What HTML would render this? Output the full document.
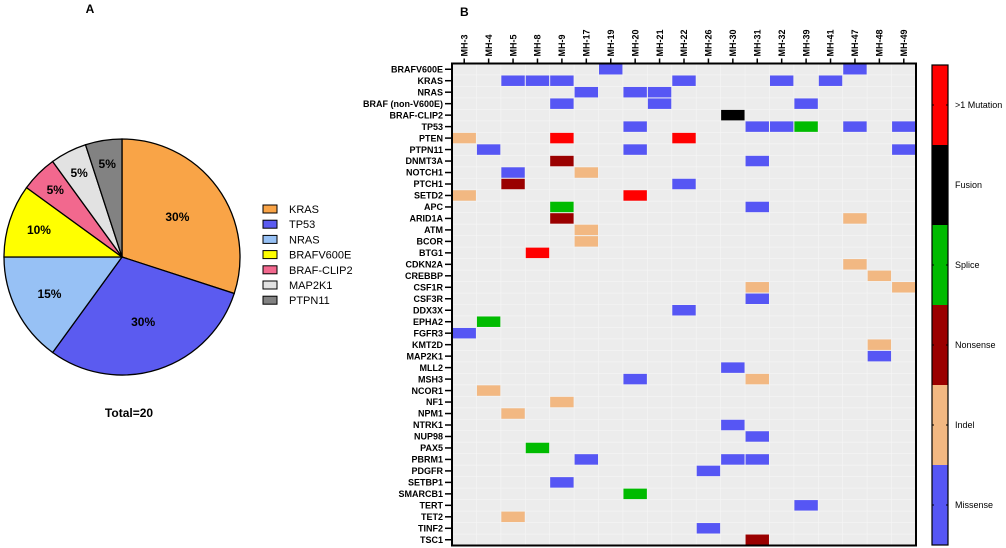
<!DOCTYPE html>
<html><head><meta charset="utf-8"><style>
body{margin:0;background:#fff;font-family:"Liberation Sans",Arial,sans-serif}
svg{display:block}
text{font-family:"Liberation Sans",Arial,sans-serif;font-weight:bold}
</style></head><body>
<svg id="svg" width="1006" height="548" viewBox="0 0 1006 548"></svg>
<script>
const pieLabels=["KRAS","TP53","NRAS","BRAFV600E","BRAF-CLIP2","MAP2K1","PTPN11"];
const pieValues=[30,30,15,10,5,5,5];
const pieColors=["#f9a447","#5b5bf0","#97c1f5","#ffff00","#f2688e","#e2e2e2","#828282"];
const columns=["MH-3","MH-4","MH-5","MH-8","MH-9","MH-17","MH-19","MH-20","MH-21","MH-22","MH-26","MH-30","MH-31","MH-32","MH-39","MH-41","MH-47","MH-48","MH-49"];
const genes=["BRAFV600E","KRAS","NRAS","BRAF (non-V600E)","BRAF-CLIP2","TP53","PTEN","PTPN11","DNMT3A","NOTCH1","PTCH1","SETD2","APC","ARID1A","ATM","BCOR","BTG1","CDKN2A","CREBBP","CSF1R","CSF3R","DDX3X","EPHA2","FGFR3","KMT2D","MAP2K1","MLL2","MSH3","NCOR1","NF1","NPM1","NTRK1","NUP98","PAX5","PBRM1","PDGFR","SETBP1","SMARCB1","TERT","TET2","TINF2","TSC1"];
const categories=["Missense","Indel","Nonsense","Splice","Fusion",">1 Mutation"];
const catColors=["#5656f4","#f2b882","#9a0000","#00bb00","#000000","#ff0000"];
// [geneIndex, columnIndex, categoryIndex]
const mutations=[
[0,6,0],[0,16,0],
[1,2,0],[1,3,0],[1,4,0],[1,9,0],[1,13,0],[1,15,0],
[2,5,0],[2,7,0],[2,8,0],
[3,4,0],[3,8,0],[3,14,0],
[4,11,4],
[5,7,0],[5,12,0],[5,13,0],[5,14,3],[5,16,0],[5,18,0],
[6,0,1],[6,4,5],[6,9,5],
[7,1,0],[7,7,0],[7,18,0],
[8,4,2],[8,12,0],
[9,2,0],[9,5,1],
[10,2,2],[10,9,0],
[11,0,1],[11,7,5],
[12,4,3],[12,12,0],
[13,4,2],[13,16,1],
[14,5,1],[15,5,1],[16,3,5],[17,16,1],[18,17,1],
[19,12,1],[19,18,1],[20,12,0],[21,9,0],[22,1,3],[23,0,0],
[24,17,1],[25,17,0],[26,11,0],[27,7,0],[27,12,1],[28,1,1],[29,4,1],[30,2,1],
[31,11,0],[32,12,0],[33,3,3],[34,5,0],[34,11,0],[34,12,0],[35,10,0],[36,4,0],
[37,7,3],[38,14,0],[39,2,1],[40,10,0],[41,12,2]
];
const NS="http://www.w3.org/2000/svg";
const svg=document.getElementById('svg');
function mk(t,a,p){const e=document.createElementNS(NS,t);for(const k in a)e.setAttribute(k,a[k]);(p||svg).appendChild(e);return e;}
let t=mk('text',{x:90,y:13,'font-size':12,'text-anchor':'middle'});t.textContent='A';


t=mk('text',{x:460,y:16,'font-size':12});t.textContent='B';


// Pie
const cx=122,cy=257,r=118;
const total=pieValues.reduce((a,b)=>a+b,0);
let ang=0;
pieValues.forEach((v,i)=>{
 const a0=ang,a1=ang+v/total*2*Math.PI;ang=a1;
 const x0=cx+r*Math.sin(a0),y0=cy-r*Math.cos(a0),x1=cx+r*Math.sin(a1),y1=cy-r*Math.cos(a1);
 const p=mk('path',{d:`M${cx},${cy}L${x0},${y0}A${r},${r} 0 ${a1-a0>Math.PI?1:0} 1 ${x1},${y1}Z`,fill:pieColors[i],stroke:'#000','stroke-width':1.3});
 
 
 const frac=v/total;
 const am=(a0+a1)/2,rr=frac>=0.3?r*0.58:(frac>=0.15?r*0.69:(frac>=0.1?r*0.74:r*0.8));
 const lt=mk('text',{x:cx+rr*Math.sin(am),y:cy-rr*Math.cos(am)+4,'font-size':12,'text-anchor':'middle'});
 lt.textContent=Math.round(frac*100)+'%';
 
 
});
t=mk('text',{x:129,y:417,'font-size':12,'text-anchor':'middle'});
t.textContent='Total='+(total/5);


pieLabels.forEach((l,i)=>{
 const y=209+i*15.2;
 const g=mk('g',{});
 
 
 mk('rect',{x:263,y:y-4,width:14,height:8,fill:pieColors[i],stroke:'#000','stroke-width':1},g);
 const tt=mk('text',{x:289,y:y+4,'font-size':11},g);tt.style.fontWeight='normal';tt.textContent=l;
});
// Heatmap
const L=452,R=916,T=63.5,B=545.5;
const colW=(R-L)/columns.length, rowH=(B-T)/genes.length;
const xS=i=>L+i*colW, yS=i=>T+i*rowH;
const bg=mk('rect',{x:L,y:T,width:R-L,height:B-T,fill:'#ececec'});


for(let i=1;i<columns.length;i++)mk('line',{x1:xS(i),x2:xS(i),y1:T,y2:B,stroke:'#f6f6f6','stroke-width':0.6});
for(let i=1;i<genes.length;i++)mk('line',{x1:L,x2:R,y1:yS(i),y2:yS(i),stroke:'#f6f6f6','stroke-width':0.6});
mutations.forEach(m=>{
 const c=mk('rect',{x:xS(m[1])+0.5,y:yS(m[0])+0.5,width:colW-1,height:rowH-1,fill:catColors[m[2]]});
 
 
});
const fr=mk('rect',{x:L,y:T,width:R-L,height:B-T,fill:'none',stroke:'#000','stroke-width':2});


columns.forEach((c,i)=>{
 const x=xS(i)+colW/2;
 mk('line',{x1:x,x2:x,y1:T-5,y2:T,stroke:'#000','stroke-width':1.5});
 const lt=mk('text',{x:0,y:0,'font-size':9,'text-anchor':'start',transform:`translate(${x+3.2},${T-7}) rotate(-90)`});
 lt.textContent=c;
 
 
});
genes.forEach((g,i)=>{
 const y=yS(i)+rowH/2;
 mk('line',{x1:L-7,x2:L,y1:y,y2:y,stroke:'#000','stroke-width':1.5});
 const lt=mk('text',{x:L-9,y:y+3.2,'font-size':9,'text-anchor':'end'});
 lt.textContent=g;
 
 
});
// Color bar legend
const cbT=65,cbB=545,cbX=932,cbW=16,n=categories.length,segH=(cbB-cbT)/n;
for(let k=0;k<n;k++){
 const idx=n-1-k;
 const s=mk('rect',{x:cbX,y:cbT+k*segH,width:cbW,height:segH,fill:catColors[idx]});
 
 
 const yy=cbT+(k+0.5)*segH;
 mk('line',{x1:cbX,x2:cbX+2,y1:yy,y2:yy,stroke:'#000'});
 mk('line',{x1:cbX+cbW-2,x2:cbX+cbW,y1:yy,y2:yy,stroke:'#000'});
 const lt=mk('text',{x:955,y:yy+3,'font-size':9});lt.style.fontWeight='normal';
 lt.textContent=categories[idx];
 
 
}
mk('rect',{x:cbX,y:cbT,width:cbW,height:cbB-cbT,fill:'none',stroke:'#000','stroke-width':1.2});
</script>
</body></html>
